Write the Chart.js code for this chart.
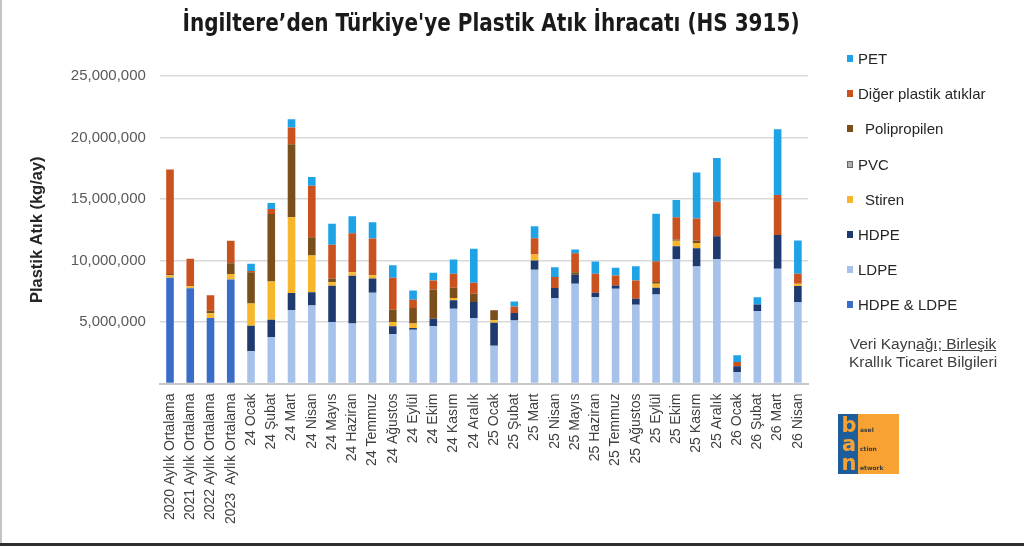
<!DOCTYPE html>
<html lang="tr">
<head>
<meta charset="utf-8">
<title>İngiltere'den Türkiye'ye Plastik Atık İhracatı</title>
<script src="https://cdn.jsdelivr.net/npm/chart.js@4.4.1/dist/chart.umd.min.js"></script>
<style>
  html, body { margin: 0; padding: 0; background: #fff; }
  #wrap { position: relative; width: 1024px; height: 546px; overflow: hidden; background: #fff; }
  #myChart { position: absolute; left: 0; top: 0; }
  #title {
    position: absolute; left: 0; width: 982px; top: 8px; text-align: center;
    font-family: "Liberation Sans Narrow", "DejaVu Sans Condensed", "Liberation Sans", Arial, sans-serif;
    font-weight: bold; font-size: 25px; color: #1a1a1a; white-space: nowrap;
    transform: scaleX(0.89); transform-origin: 491px 0;
  }
  #legend { position: absolute; left: 847px; top: 41px; font-family: "Liberation Sans", Arial, sans-serif; font-size: 15px; color: #262626; }
  .item { height: 35.2px; display: flex; align-items: center; white-space: nowrap; }
  .box { width: 6px; height: 7px; margin-right: 5px; box-sizing: border-box; }
  #source {
    position: absolute; left: 838px; width: 170px; top: 335px; text-align: center;
    font-family: "Liberation Sans", Arial, sans-serif; font-size: 15.5px; line-height: 18px; color: #404040;
  }
  #logo { position: absolute; left: 838px; top: 414px; width: 61px; height: 60px; background: #f7a233; }
  #logo .strip { position: absolute; left: 0; top: 0; width: 20px; height: 60px; background: #1d5d9b; }
  #logo .big { position: absolute; left: 3px; width: 16px; text-align: center; font: bold 21px "DejaVu Sans", sans-serif; color: #f7a233; line-height: 18px; }
  #logo .small { position: absolute; left: 22px; font: bold 6px "DejaVu Sans", sans-serif; color: #3a3a3a; }
  #edgeL { position: absolute; left: 0; top: 0; width: 2px; height: 546px; background: #c4c4c4; }
  #edgeB { position: absolute; left: 0; top: 543px; width: 1024px; height: 3px; background: #2e2e2e; }
</style>
</head>
<body>
<div id="wrap">
  <canvas id="myChart" width="1024" height="546"></canvas>
  <div id="title">İngiltere’den Türkiye'ye Plastik Atık İhracatı (HS 3915)</div>
  <div id="legend"></div>
  <div id="source">Veri Kayn<u>ağı; Birleşik</u><br>Krallık Ticaret Bilgileri</div>
  <div id="logo">
    <div class="strip"></div>
    <div class="big" style="top:2px">b</div>
    <div class="big" style="top:21px">a</div>
    <div class="big" style="top:40px">n</div>
    <div class="small" style="top:12px">asel</div>
    <div class="small" style="top:31px">ction</div>
    <div class="small" style="top:50px">etwork</div>
  </div>
  <div id="edgeL"></div>
  <div id="edgeB"></div>
</div>
<script>
// kategoriler (x ekseni)
const months = [
  "2020 Aylık Ortalama", "2021 Aylık Ortalama", "2022 Aylık Ortalama", "2023  Aylık Ortalama",
  "24 Ocak", "24 Şubat", "24 Mart", "24 Nisan", "24 Mayıs", "24 Haziran", "24 Temmuz", "24 Ağustos",
  "24 Eylül", "24 Ekim", "24 Kasım", "24 Aralık",
  "25 Ocak", "25 Şubat", "25 Mart", "25 Nisan", "25 Mayıs", "25 Haziran", "25 Temmuz", "25 Ağustos",
  "25 Eylül", "25 Ekim", "25 Kasım", "25 Aralık",
  "26 Ocak", "26 Şubat", "26 Mart", "26 Nisan"
];

// kg/ay
const hdpeLdpe = [8600000, 7750000, 5320000, 8460000, 0, 0, 0, 0, 0, 0, 0, 0, 0, 0, 0, 0,
  0, 0, 0, 0, 0, 0, 0, 0, 0, 0, 0, 0, 0, 0, 0, 0];
const ldpe = [0, 0, 0, 0, 2620000, 3780000, 5970000, 6350000, 5000000, 4870000, 7380000, 4000000,
  4380000, 4650000, 6080000, 5320000, 3080000, 5130000, 9240000, 6940000, 8110000, 7020000, 7700000, 6400000,
  7240000, 10110000, 9510000, 10110000, 940000, 5890000, 9330000, 6620000];
const hdpe = [0, 0, 0, 0, 2080000, 1410000, 1380000, 1080000, 2950000, 3900000, 1160000, 650000,
  130000, 620000, 680000, 1300000, 1870000, 600000, 760000, 820000, 730000, 360000, 270000, 490000,
  550000, 1050000, 1490000, 1860000, 460000, 540000, 2750000, 1300000];
const stiren = [200000, 150000, 400000, 450000, 1810000, 3110000, 6160000, 2980000, 290000, 270000, 270000, 350000,
  360000, 0, 190000, 0, 190000, 0, 490000, 0, 0, 0, 0, 0,
  320000, 440000, 430000, 0, 0, 0, 0, 190000];
const pvc = [0, 0, 0, 0, 0, 0, 0, 0, 0, 0, 0, 0, 0, 0, 0, 0,
  0, 0, 0, 0, 0, 0, 0, 0, 0, 0, 0, 0, 0, 0, 0, 0];
const polipropilen = [100000, 0, 200000, 860000, 2540000, 5490000, 5950000, 1480000, 300000, 0, 0, 1000000,
  1260000, 2380000, 840000, 680000, 810000, 0, 0, 0, 200000, 0, 0, 0,
  140000, 100000, 180000, 0, 0, 0, 0, 0];
const diger = [8500000, 2250000, 1250000, 1840000, 100000, 400000, 1350000, 4190000, 2750000, 3170000, 2970000, 2600000,
  680000, 730000, 1130000, 890000, 0, 540000, 1320000, 890000, 1550000, 1540000, 810000, 1490000,
  1690000, 1810000, 1810000, 2810000, 350000, 0, 3250000, 810000];
const pet = [0, 0, 0, 0, 580000, 490000, 680000, 710000, 1700000, 1380000, 1330000, 1020000,
  760000, 620000, 1160000, 2760000, 0, 400000, 970000, 810000, 300000, 1000000, 630000, 1160000,
  3870000, 1410000, 3730000, 3550000, 550000, 590000, 5350000, 2700000];

const yTicks = [0, 5000000, 10000000, 15000000, 20000000, 25000000];

Chart.defaults.font.family = "'Liberation Sans', Arial, sans-serif";

const datasets = [
  { label: "HDPE & LDPE", data: hdpeLdpe, backgroundColor: "#3a6dc8" },
  { label: "LDPE", data: ldpe, backgroundColor: "#a7c2ea" },
  { label: "HDPE", data: hdpe, backgroundColor: "#1f3a6f" },
  { label: "Stiren", data: stiren, backgroundColor: "#f8b62d" },
  { label: "PVC", data: pvc, backgroundColor: "#b0b0b0" },
  { label: "Polipropilen", data: polipropilen, backgroundColor: "#7a4f1c" },
  { label: "Diğer plastik atıklar", data: diger, backgroundColor: "#c9521f" },
  { label: "PET", data: pet, backgroundColor: "#1ea3e6" },
];

const chart = new Chart("myChart", {
  type: "bar",
  data: { labels: months, datasets: datasets },
  options: {
    responsive: false,
    animation: false,
    datasets: { bar: { categoryPercentage: 0.8, barPercentage: 0.47, borderWidth: 0 } },
    layout: { padding: { top: 76, right: 216, bottom: 12, left: 10 } },
    plugins: {
      legend: { display: false },
      title: { display: false },
      tooltip: { enabled: false },
    },
    scales: {
      x: {
        stacked: true,
        grid: { display: false, drawTicks: false },
        border: { display: true, color: "#c8c8c8", width: 2 },
        ticks: {
          color: "#404040",
          font: { size: 14 },
          minRotation: 90,
          maxRotation: 90,
          autoSkip: false,
          padding: 10,
        },
      },
      y: {
        stacked: true,
        min: 0,
        max: 25000000,
        afterBuildTicks: (scale) => {
          scale.ticks = yTicks.map((v) => ({ value: v }));
        },
        grid: { color: "#d9d9d9", lineWidth: 1.5, drawTicks: false },
        border: { display: false },
        ticks: {
          color: "#595959",
          font: { size: 15 },
          padding: 14,
          callback: (v) => (v === 0 ? "" : v.toLocaleString("en-US")),
        },
        title: {
          display: true,
          text: "Plastik Atık (kg/ay)",
          color: "#262626",
          font: { size: 16.5, weight: "bold" },
          padding: { top: 18, bottom: 9 },
        },
      },
    },
  },
});

// legend (sağ taraf, ters sırada)
const elLegend = document.getElementById("legend");
datasets.slice().reverse().forEach((ds) => {
  const item = document.createElement("div");
  item.className = "item";
  const box = document.createElement("span");
  box.className = "box";
  box.style.background = ds.backgroundColor;
  if (ds.label === "PVC") box.style.border = "1px solid #666";
  const txt = document.createElement("span");
  txt.textContent = ds.label;
  if (ds.label === "Polipropilen" || ds.label === "Stiren") txt.style.marginLeft = "7px";
  item.appendChild(box);
  item.appendChild(txt);
  elLegend.appendChild(item);
});
</script>
</body>
</html>
